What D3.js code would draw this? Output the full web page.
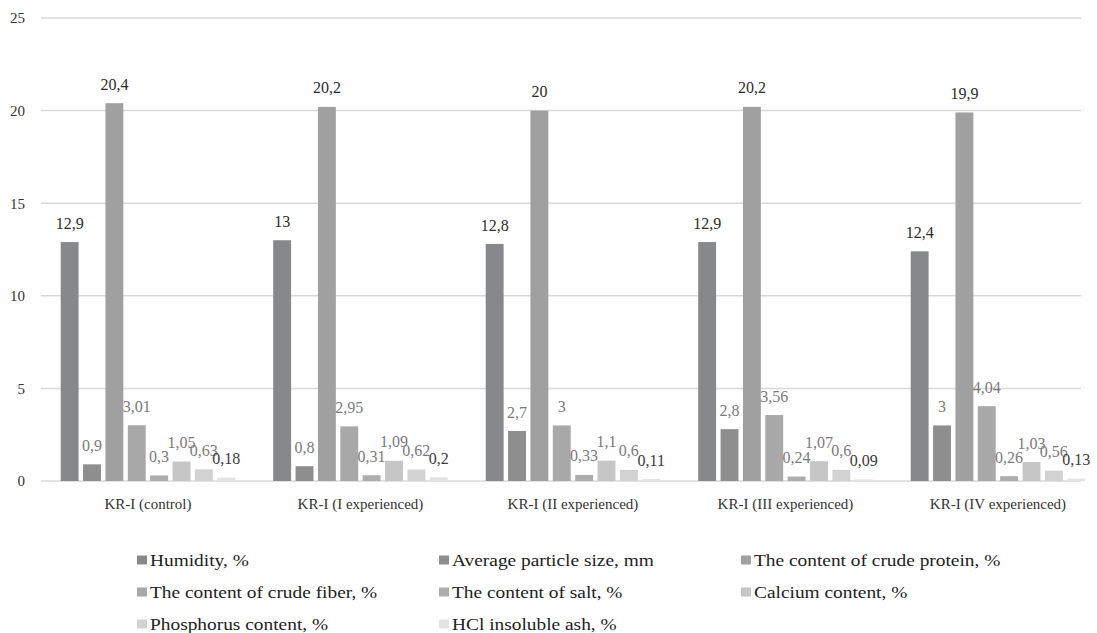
<!DOCTYPE html>
<html>
<head>
<meta charset="utf-8">
<script src="https://cdn.jsdelivr.net/npm/d3@7"></script>
<style>
  html, body { margin: 0; padding: 0; background: #fff; }
  svg { display: block; }
  svg text { font-family: "Liberation Serif", "DejaVu Serif", "Times New Roman", serif; }
</style>
</head>
<body>
<svg id="chart" width="1097" height="633"></svg>
<script>
// Feed samples KR-I: control and four experienced variants
const categories = ["KR-I (control)", "KR-I (I experienced)", "KR-I (II experienced)", "KR-I (III experienced)", "KR-I  (IV experienced)"];
const seriesNames = [
  "Humidity, %",
  "Average particle size, mm",
  "The content of crude protein, %",
  "The content of crude fiber, %",
  "The content of salt, %",
  "Calcium content, %",
  "Phosphorus content, %",
  "HCl insoluble ash, %"
];
const humidity   = [12.9, 13, 12.8, 12.9, 12.4];
const particle   = [0.9, 0.8, 2.7, 2.8, 3];
const protein    = [20.4, 20.2, 20, 20.2, 19.9];
const fiber      = [3.01, 2.95, 3, 3.56, 4.04];
const salt       = [0.3, 0.31, 0.33, 0.24, 0.26];
const calcium    = [1.05, 1.09, 1.1, 1.07, 1.03];
const phosphorus = [0.63, 0.62, 0.6, 0.6, 0.56];
const hclAsh     = [0.18, 0.2, 0.11, 0.09, 0.13];
const yTicks = [0, 5, 10, 15, 20, 25];

const seriesValues = [humidity, particle, protein, fiber, salt, calcium, phosphorus, hclAsh];
const barColors   = ["#87888a", "#8e8e8e", "#a0a0a0", "#a8a8a8", "#adadad", "#c6c6c6", "#d2d2d2", "#e3e3e3"];
const labelColors = ["#2b2b2b", "#7a7a7a", "#2b2b2b", "#7a7a7a", "#7a7a7a", "#7a7a7a", "#7a7a7a", "#3a3a3a"];

const fmt = v => String(v).replace(".", ",");
const SERIF = "'Liberation Serif', 'DejaVu Serif', 'Times New Roman', serif";

const svg = d3.select("#chart");

const y = d3.scaleLinear().domain([0, 25]).range([481, 18]);
const x0 = d3.scaleBand().domain(categories).range([41.7, 1104.2]).padding(0);
const x1 = d3.scaleBand().domain(d3.range(seriesNames.length))
  .range([19, x0.bandwidth() - 19]).paddingInner(0.2).paddingOuter(0);

// horizontal gridlines
svg.append("g").selectAll("line").data(yTicks).join("line")
  .attr("x1", 41).attr("x2", 1081)
  .attr("y1", d => y(d)).attr("y2", d => y(d))
  .attr("stroke", "#d9d9d9").attr("stroke-width", 1.5);

// y-axis labels
const yAxis = d3.axisLeft(y).tickValues(yTicks).tickSize(0).tickPadding(0).tickFormat(d => d);
svg.append("g").attr("transform", "translate(25,0)").call(yAxis)
  .attr("font-family", SERIF)
  .call(g => g.select(".domain").remove())
  .call(g => g.selectAll("text")
    .style("font-family", SERIF).attr("font-size", 15).attr("fill", "#333"));

// category labels
const xAxis = d3.axisBottom(x0).tickSize(0).tickPadding(0);
svg.append("g").attr("transform", "translate(0,498)").call(xAxis)
  .attr("font-family", SERIF)
  .call(g => g.select(".domain").remove())
  .call(g => g.selectAll("text")
    .style("font-family", SERIF).attr("font-size", 15).attr("fill", "#333")
    .attr("dy", "0.71em"));

// bars and data labels
const groups = svg.append("g").selectAll("g").data(categories).join("g")
  .attr("transform", d => `translate(${x0(d)},0)`);

groups.each(function(cat, ci) {
  const g = d3.select(this);
  const rows = seriesValues.map((vals, si) => ({ si, v: vals[ci] }));
  g.selectAll("rect").data(rows).join("rect")
    .attr("x", d => x1(d.si))
    .attr("width", x1.bandwidth())
    .attr("y", d => y(d.v))
    .attr("height", d => y(0) - y(d.v))
    .attr("fill", d => barColors[d.si]);
  g.selectAll("text").data(rows).join("text")
    .attr("x", d => x1(d.si) + x1.bandwidth() / 2)
    .attr("y", d => y(d.v) - 19)
    .attr("dy", "0.35em")
    .attr("text-anchor", "middle")
    .style("font-family", SERIF)
    .attr("font-size", 16)
    .attr("fill", d => labelColors[d.si])
    .text(d => fmt(d.v));
});

// legend, three columns; entries are set in a slightly widened serif face
const legend = svg.append("g").selectAll("g").data(seriesNames).join("g")
  .attr("transform", (d, i) => `translate(${137 + (i % 3) * 302},${560 + Math.floor(i / 3) * 32})`);
legend.append("rect")
  .attr("x", 0).attr("y", -4.5).attr("width", 10).attr("height", 9)
  .attr("fill", (d, i) => barColors[i]);
legend.append("text")
  .attr("transform", "translate(13,0) scale(1.14,1)")
  .attr("dy", "0.35em")
  .style("font-family", SERIF)
  .attr("font-size", 17).attr("fill", "#222")
  .text(d => d);
</script>
</body>
</html>
